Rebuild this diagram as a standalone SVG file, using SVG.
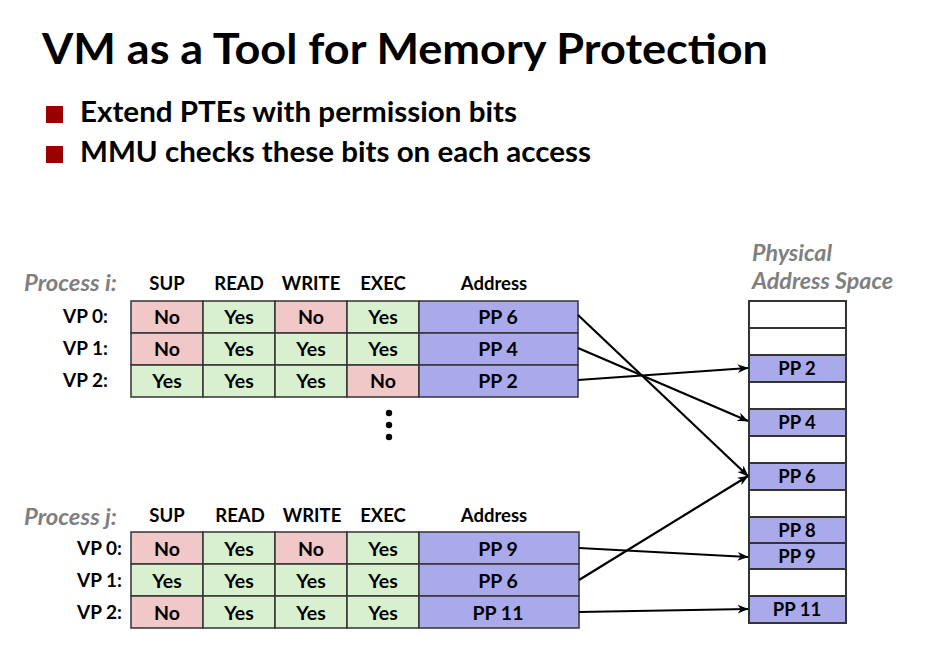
<svg xmlns="http://www.w3.org/2000/svg" width="942" height="661" viewBox="0 0 942 661">
  <defs>
    <style>
      text { font-family: Lato, "Open Sans", "Liberation Sans", sans-serif; font-weight: bold; fill: #000; }
      .title { font-size: 42px; }
      .bullet { font-size: 28px; }
      .proc { font-size: 22px; font-style: italic; fill: #7f7f7f; }
      .hdr { font-size: 18.5px; text-anchor: middle; }
      .vp { font-size: 19px; text-anchor: end; }
      .cell { font-size: 19.5px; text-anchor: middle; }
      .pp { font-size: 18.5px; text-anchor: middle; }
      .no { fill: #f0c8c8; stroke: #333; stroke-width: 1.5; }
      .yes { fill: #d8f0d0; stroke: #333; stroke-width: 1.5; }
      .addr { fill: #aaaaea; stroke: #333; stroke-width: 1.5; }
      .slot { fill: #fff; stroke: #333; stroke-width: 2; }
      .used { fill: #aaaaea; stroke: #333; stroke-width: 2; }
      .edge { stroke: #000; stroke-width: 2.2; fill: none; marker-end: url(#arrow); }
    </style>
    <marker id="arrow" viewBox="0 0 10 10" refX="9.5" refY="5" markerWidth="5" markerHeight="5" orient="auto" markerUnits="strokeWidth">
      <path d="M0,1 L10,5 L0,9 L3,5 Z" fill="#000"/>
    </marker>
  </defs>

  <rect width="942" height="661" fill="#fff"/>

  <!-- heading and bullets -->
  <g id="heading">
    <text class="title" x="42" y="64" textLength="726" lengthAdjust="spacingAndGlyphs">VM as a Tool for Memory Protection</text>
    <rect x="46" y="106" width="17" height="17" fill="#990000"/>
    <text class="bullet" x="80" y="122" textLength="437" lengthAdjust="spacingAndGlyphs">Extend PTEs with permission bits</text>
    <rect x="46" y="146" width="17" height="17" fill="#990000"/>
    <text class="bullet" x="80" y="162" textLength="511" lengthAdjust="spacingAndGlyphs">MMU checks these bits on each access</text>
  </g>

  <!-- page table of process i -->
  <g id="process-i">
    <text class="proc" x="24" y="291" textLength="93" lengthAdjust="spacingAndGlyphs">Process i:</text>
    <text class="hdr" x="167" y="290">SUP</text>
    <text class="hdr" x="239" y="290">READ</text>
    <text class="hdr" x="311" y="290">WRITE</text>
    <text class="hdr" x="383" y="290">EXEC</text>
    <text class="hdr" x="494" y="290">Address</text>
    <text class="vp" x="108" y="323">VP 0:</text>
    <text class="vp" x="108" y="355">VP 1:</text>
    <text class="vp" x="108" y="387">VP 2:</text>
    <!-- VP 0 -->
    <rect class="no" x="131" y="301" width="72" height="32"/>
    <rect class="yes" x="203" y="301" width="72" height="32"/>
    <rect class="no" x="275" y="301" width="72" height="32"/>
    <rect class="yes" x="347" y="301" width="72" height="32"/>
    <rect class="addr" x="419" y="301" width="159" height="32"/>
    <!-- VP 1 -->
    <rect class="no" x="131" y="333" width="72" height="32"/>
    <rect class="yes" x="203" y="333" width="72" height="32"/>
    <rect class="yes" x="275" y="333" width="72" height="32"/>
    <rect class="yes" x="347" y="333" width="72" height="32"/>
    <rect class="addr" x="419" y="333" width="159" height="32"/>
    <!-- VP 2 -->
    <rect class="yes" x="131" y="365" width="72" height="32"/>
    <rect class="yes" x="203" y="365" width="72" height="32"/>
    <rect class="yes" x="275" y="365" width="72" height="32"/>
    <rect class="no" x="347" y="365" width="72" height="32"/>
    <rect class="addr" x="419" y="365" width="159" height="32"/>
    <text class="cell" x="167" y="324">No</text>
    <text class="cell" x="239" y="324">Yes</text>
    <text class="cell" x="311" y="324">No</text>
    <text class="cell" x="383" y="324">Yes</text>
    <text class="cell" x="498" y="324">PP 6</text>
    <text class="cell" x="167" y="356">No</text>
    <text class="cell" x="239" y="356">Yes</text>
    <text class="cell" x="311" y="356">Yes</text>
    <text class="cell" x="383" y="356">Yes</text>
    <text class="cell" x="498" y="356">PP 4</text>
    <text class="cell" x="167" y="388">Yes</text>
    <text class="cell" x="239" y="388">Yes</text>
    <text class="cell" x="311" y="388">Yes</text>
    <text class="cell" x="383" y="388">No</text>
    <text class="cell" x="498" y="388">PP 2</text>
  </g>

  <!-- vertical ellipsis -->
  <g id="ellipsis" fill="#000">
    <circle cx="389" cy="413" r="3.2"/>
    <circle cx="389" cy="425" r="3.2"/>
    <circle cx="389" cy="437" r="3.2"/>
  </g>

  <!-- page table of process j -->
  <g id="process-j">
    <text class="proc" x="24" y="525" textLength="93" lengthAdjust="spacingAndGlyphs">Process j:</text>
    <text class="hdr" x="167" y="522">SUP</text>
    <text class="hdr" x="240" y="522">READ</text>
    <text class="hdr" x="312" y="522">WRITE</text>
    <text class="hdr" x="383" y="522">EXEC</text>
    <text class="hdr" x="494" y="522">Address</text>
    <text class="vp" x="122" y="555">VP 0:</text>
    <text class="vp" x="122" y="587">VP 1:</text>
    <text class="vp" x="122" y="619">VP 2:</text>
    <!-- VP 0 -->
    <rect class="no" x="131" y="532" width="72" height="32"/>
    <rect class="yes" x="203" y="532" width="72" height="32"/>
    <rect class="no" x="275" y="532" width="72" height="32"/>
    <rect class="yes" x="347" y="532" width="72" height="32"/>
    <rect class="addr" x="419" y="532" width="160" height="32"/>
    <!-- VP 1 -->
    <rect class="yes" x="131" y="564" width="72" height="32"/>
    <rect class="yes" x="203" y="564" width="72" height="32"/>
    <rect class="yes" x="275" y="564" width="72" height="32"/>
    <rect class="yes" x="347" y="564" width="72" height="32"/>
    <rect class="addr" x="419" y="564" width="160" height="32"/>
    <!-- VP 2 -->
    <rect class="no" x="131" y="596" width="72" height="32"/>
    <rect class="yes" x="203" y="596" width="72" height="32"/>
    <rect class="yes" x="275" y="596" width="72" height="32"/>
    <rect class="yes" x="347" y="596" width="72" height="32"/>
    <rect class="addr" x="419" y="596" width="160" height="32"/>
    <text class="cell" x="167" y="556">No</text>
    <text class="cell" x="239" y="556">Yes</text>
    <text class="cell" x="311" y="556">No</text>
    <text class="cell" x="383" y="556">Yes</text>
    <text class="cell" x="498" y="556">PP 9</text>
    <text class="cell" x="167" y="588">Yes</text>
    <text class="cell" x="239" y="588">Yes</text>
    <text class="cell" x="311" y="588">Yes</text>
    <text class="cell" x="383" y="588">Yes</text>
    <text class="cell" x="498" y="588">PP 6</text>
    <text class="cell" x="167" y="620">No</text>
    <text class="cell" x="239" y="620">Yes</text>
    <text class="cell" x="311" y="620">Yes</text>
    <text class="cell" x="383" y="620">Yes</text>
    <text class="cell" x="498" y="620">PP 11</text>
  </g>

  <!-- physical memory, one slot per page -->
  <g id="physical-memory">
    <text class="proc" x="752" y="261" textLength="80" lengthAdjust="spacingAndGlyphs">Physical</text>
    <text class="proc" x="752" y="289" textLength="141" lengthAdjust="spacingAndGlyphs">Address Space</text>
    <rect class="slot" x="749" y="301" width="97" height="27"/>
    <rect class="slot" x="749" y="328" width="97" height="27"/>
    <rect class="used" x="749" y="355" width="97" height="27"/>
    <rect class="slot" x="749" y="382" width="97" height="27"/>
    <rect class="used" x="749" y="409" width="97" height="27"/>
    <rect class="slot" x="749" y="436" width="97" height="27"/>
    <rect class="used" x="749" y="463" width="97" height="27"/>
    <rect class="slot" x="749" y="490" width="97" height="27"/>
    <rect class="used" x="749" y="517" width="97" height="26"/>
    <rect class="used" x="749" y="543" width="97" height="26"/>
    <rect class="slot" x="749" y="569" width="97" height="27"/>
    <rect class="used" x="749" y="596" width="97" height="27"/>
    <text class="pp" x="797" y="375">PP 2</text>
    <text class="pp" x="797" y="429">PP 4</text>
    <text class="pp" x="797" y="483">PP 6</text>
    <text class="pp" x="797" y="537">PP 8</text>
    <text class="pp" x="797" y="563">PP 9</text>
    <text class="pp" x="797" y="616">PP 11</text>
  </g>

  <!-- page mappings -->
  <g id="connectors">
    <line class="edge" x1="578" y1="315" x2="748" y2="476"/>
    <line class="edge" x1="578" y1="348" x2="748" y2="421"/>
    <line class="edge" x1="578" y1="380" x2="748" y2="368"/>
    <line class="edge" x1="579" y1="548" x2="748" y2="557"/>
    <line class="edge" x1="579" y1="580" x2="748" y2="476"/>
    <line class="edge" x1="579" y1="612" x2="748" y2="609"/>
  </g>
</svg>
